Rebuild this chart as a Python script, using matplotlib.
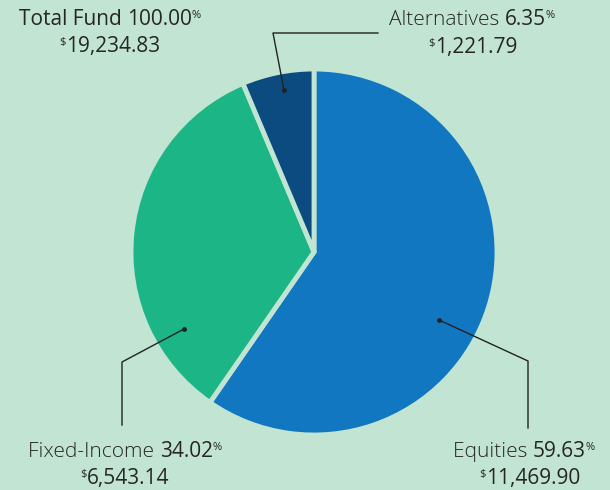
import matplotlib
matplotlib.use("Agg")
import matplotlib.pyplot as plt

# fund allocation
names = ["Equities", "Fixed-Income", "Alternatives"]
pcts = [59.63, 34.02, 6.35]
amounts = ["11,469.90", "6,543.14", "1,221.79"]
colors = ["#1177c0", "#1cb686", "#0b4b80"]
total_name = "Total Fund"
total_pct = "100.00"
total_amt = "19,234.83"

bg = "#c1e4d3"
txt = "#262626"
W, H = 610, 490

fig = plt.figure(figsize=(6.1, 4.9), dpi=100, facecolor=bg)
ax = fig.add_axes([0, 0, 1, 1])
ax.set_facecolor(bg)

cx, cy = 314, H - 252
ax.pie(pcts, colors=colors, startangle=90, counterclock=False,
       center=(cx, cy), radius=183, frame=True,
       wedgeprops=dict(edgecolor=bg, linewidth=3.5))
ax.set_xlim(0, W)
ax.set_ylim(0, H)
ax.set_aspect("equal")
ax.axis("off")

# leader lines (pixel coords, y from top)
leaders = [
    [(439, 320), (528, 361), (528, 428)],
    [(184, 329), (122, 362), (122, 425)],
    [(284, 90), (273, 33), (378, 33)],
]
for pts in leaders:
    xs = [p[0] for p in pts]
    ys = [H - p[1] for p in pts]
    ax.plot(xs, ys, color="#222222", lw=1.0)
    ax.plot(xs[0], ys[0], "o", color="#222222", ms=2.5)

fig.canvas.draw()
r = fig.canvas.get_renderer()
FONT = "Open Sans"
BIG = 15
SMALL = 8


def put_line(parts, xc, ybase):
    # parts: (string, size, weight, raise_px)
    arts = []
    for s, size, wt, up in parts:
        t = ax.text(0, 0, s, fontsize=size, fontweight=wt, family=FONT,
                    color=txt, ha="left", va="baseline")
        arts.append((t, up))
    widths = [a.get_window_extent(r).width for a, _ in arts]
    x = xc - sum(widths) / 2
    for (a, up), w in zip(arts, widths):
        a.set_position((x, H - ybase + up))
        x += w


def label(name, pct, amt, xc1, xc2, y1, y2, light=True):
    put_line([(name + " ", BIG, "light" if light else "normal", 0),
              (pct, BIG, "normal", 0),
              ("%", SMALL, "normal", 7)], xc1, y1)
    put_line([("$", SMALL, "normal", 7), (amt, BIG, "normal", 0)], xc2, y2)


label(total_name, total_pct, total_amt, 110, 110, 25, 52, light=False)
label(names[2], f"{pcts[2]:.2f}", amounts[2], 472, 473, 25, 53)
label(names[1], f"{pcts[1]:.2f}", amounts[1], 125, 125, 457, 484)
label(names[0], f"{pcts[0]:.2f}", amounts[0], 524, 530, 457, 484)

fig.savefig("out.png", dpi=100, facecolor=bg)
